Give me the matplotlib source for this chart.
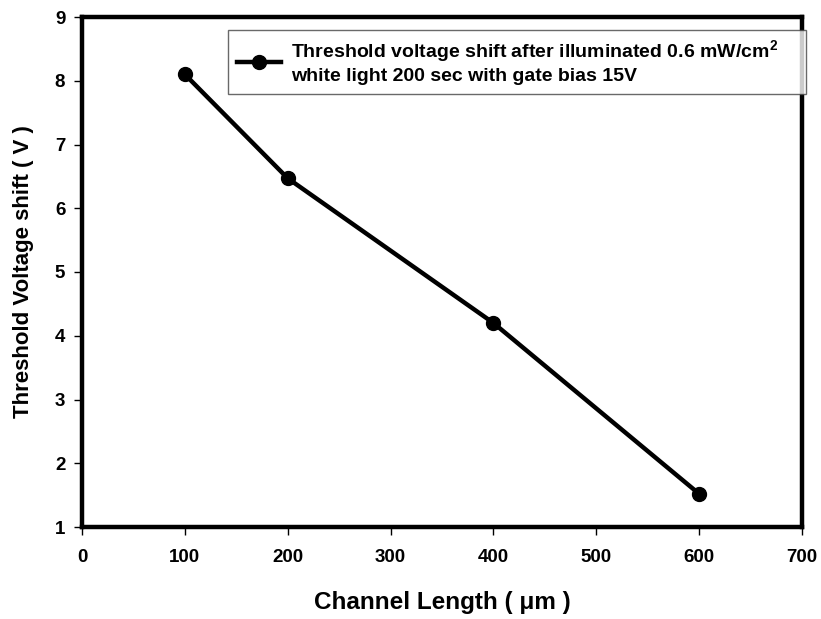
import matplotlib
matplotlib.use("Agg")
import matplotlib.pyplot as plt

plt.rcParams['font.family'] = ['Liberation Sans', 'DejaVu Sans']
plt.rcParams['mathtext.fontset'] = 'custom'
plt.rcParams['mathtext.bf'] = 'Liberation Sans:bold'
plt.rcParams['mathtext.rm'] = 'Liberation Sans:bold'

channel_length = [100, 200, 400, 600]
vth_shift = [8.1, 6.47, 4.2, 1.52]
x_ticks = [0, 100, 200, 300, 400, 500, 600, 700]
y_ticks = [1, 2, 3, 4, 5, 6, 7, 8, 9]
series_label = ("Threshold voltage shift after illuminated 0.6 mW/cm$^{\\mathrm{2}}$\n"
                "white light 200 sec with gate bias 15V")

W, H = 821, 619
fig = plt.figure(figsize=(W / 100, H / 100), dpi=100)
ax = fig.add_axes([82 / W, (H - 527) / H, 720 / W, 510 / H])

ax.plot(channel_length, vth_shift, color='black', lw=3.2, marker='o', ms=10,
        markerfacecolor='black', markeredgecolor='black', label=series_label,
        clip_on=False, zorder=3)

ax.set_xlim(0, 700)
ax.set_ylim(1, 9)
ax.set_xticks(x_ticks)
ax.set_yticks(y_ticks)
for s in ax.spines.values():
    s.set_linewidth(3.2)
ax.tick_params(direction='out', length=6, width=1, pad=6, labelsize=13.5)
ax.tick_params(axis='x', pad=10)
for lab in ax.get_xticklabels() + ax.get_yticklabels():
    lab.set_fontweight('bold')

ax.set_xlabel("Channel Length ( μm )", fontsize=17.5, fontweight='bold', labelpad=18)
ax.set_ylabel("Threshold Voltage shift ( V )", fontsize=16, fontweight='bold', labelpad=15)

leg = ax.legend(loc='upper left', mode='expand',
                bbox_to_anchor=(228 / W, 1 - 106 / H, (806 - 228) / W, (106 - 30) / H),
                bbox_transform=fig.transFigure, fancybox=False, frameon=True,
                borderaxespad=0, handlelength=2.3, handletextpad=0.5,
                borderpad=0.45, labelspacing=0.2, prop={'weight': 'bold', 'size': 14})
leg.get_frame().set_edgecolor('#444444')
leg.get_frame().set_linewidth(1)
leg.set_zorder(10)

fig.savefig("out.png", dpi=100)
